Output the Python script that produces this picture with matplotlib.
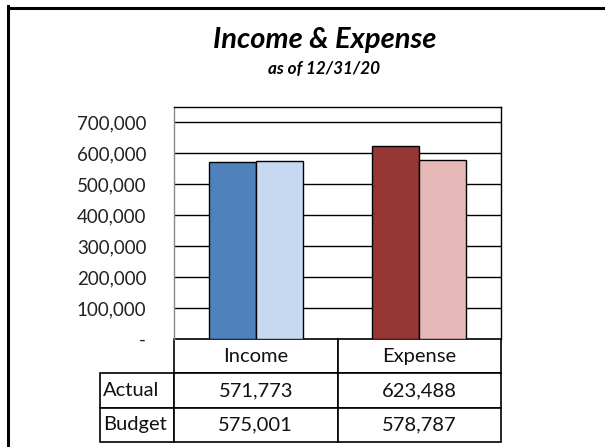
import matplotlib
matplotlib.use("Agg")
import matplotlib.pyplot as plt
from matplotlib.lines import Line2D

categories = ["Income", "Expense"]
series_names = ["Actual", "Budget"]
actual = [571773, 623488]
budget = [575001, 578787]
yticks = [0, 100000, 200000, 300000, 400000, 500000, 600000, 700000]
ytick_labels = ["-", "100,000", "200,000", "300,000", "400,000", "500,000", "600,000", "700,000"]
actual_colors = ["#4F81BD", "#953735"]
budget_colors = ["#C6D9F1", "#E6B9B8"]

FONT = ["Lato", "DejaVu Sans"]
plt.rcParams["font.family"] = FONT

W, H = 605, 447
fig = plt.figure(figsize=(W / 100, H / 100), dpi=100)

# plot area in pixels
L, R, T, B = 174, 501, 107, 339
ax = fig.add_axes([L / W, 1 - B / H, (R - L) / W, (B - T) / H])

bw = 0.2875
xs = list(range(len(categories)))
ax.bar([x - bw / 2 for x in xs], actual, width=bw, color=actual_colors,
       edgecolor="black", linewidth=1.0, zorder=3)
ax.bar([x + bw / 2 for x in xs], budget, width=bw, color=budget_colors,
       edgecolor="black", linewidth=1.0, zorder=3)

ax.set_xlim(-0.5, len(categories) - 0.5)
ax.set_ylim(0, 750000)
ax.set_yticks(yticks)
ax.set_yticklabels(ytick_labels, fontsize=13.5, color="#222222")
ax.tick_params(axis="y", length=0, pad=20)
ax.set_xticks([])
for y in yticks[1:]:
    ax.axhline(y, color="black", linewidth=1.0, zorder=1)
for s in ["top", "right"]:
    ax.spines[s].set_color("black")
    ax.spines[s].set_linewidth(1.0)
ax.spines["left"].set_color("#888888")
ax.spines["left"].set_linewidth(1.0)
ax.spines["bottom"].set_visible(False)

# data table below the plot
cell_text = [[""] + categories,
             [series_names[0]] + [f"{v:,}" for v in actual],
             [series_names[1]] + [f"{v:,}" for v in budget]]
TL, TB = 100, 442
tw = R - TL
bbox = [(TL - L) / (R - L), -(TB - B) / (B - T), tw / (R - L), (TB - B) / (B - T)]
col_w = [74 / tw, 163.5 / tw, 163.5 / tw]
tbl = ax.table(cellText=cell_text, colWidths=col_w, bbox=bbox, cellLoc="center")
tbl.auto_set_font_size(False)
for (r, c), cell in tbl.get_celld().items():
    cell.set_edgecolor("black")
    cell.set_linewidth(1.2)
    cell.get_text().set_fontsize(14.5)
    cell.get_text().set_color("#111111")
    cell.get_text().set_fontfamily(FONT)
    if c == 0:
        cell.get_text().set_horizontalalignment("left")
        cell.PAD = 0.04
    if r == 0 and c == 0:
        cell.visible_edges = ""

# titles
fig.text(325 / W, 1 - 48 / H, "Income & Expense", ha="center", va="baseline",
         fontsize=21, fontweight="bold", fontstyle="italic", family=FONT)
fig.text(324 / W, 1 - 74 / H, "as of 12/31/20", ha="center", va="baseline",
         fontsize=12.3, fontweight="bold", fontstyle="italic", family=FONT)

# outer frame (top and left)
fig.add_artist(Line2D([7.5 / W, 1], [1 - 7.5 / H, 1 - 7.5 / H], color="black",
                      linewidth=2.2, transform=fig.transFigure))
fig.add_artist(Line2D([7.5 / W, 7.5 / W], [0, 1 - 6 / H], color="black",
                      linewidth=2.2, transform=fig.transFigure))

fig.savefig("out.png", dpi=100)
